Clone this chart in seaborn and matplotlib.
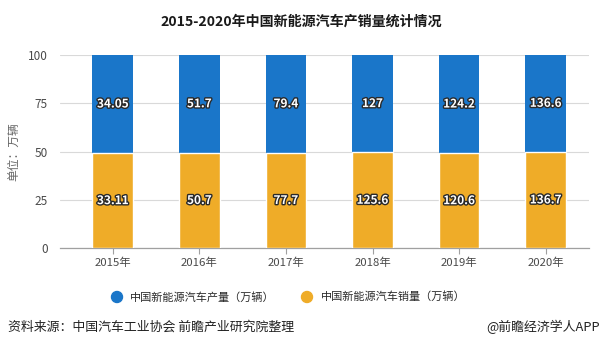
import matplotlib
matplotlib.use("Agg")
import matplotlib.pyplot as plt
import matplotlib.patheffects as pe
import seaborn as sns
import pandas as pd
import numpy as np

years = ["2015年", "2016年", "2017年", "2018年", "2019年", "2020年"]
production = [34.05, 51.7, 79.4, 127, 124.2, 136.6]
sales = [33.11, 50.7, 77.7, 125.6, 120.6, 136.7]
prod_labels = ["34.05", "51.7", "79.4", "127", "124.2", "136.6"]
sales_labels = ["33.11", "50.7", "77.7", "125.6", "120.6", "136.7"]
yticks = [0, 25, 50, 75, 100]

blue = "#1a76c9"
orange = "#efac28"

sns.set_theme(style="white")
plt.rcParams["font.family"] = ["Noto Sans CJK SC", "DejaVu Sans"]

df = pd.DataFrame({"year": years, "production": production, "sales": sales})
df["total"] = df["production"] + df["sales"]
df["sales_pct"] = df["sales"] / df["total"] * 100
df["full"] = 100.0

fig = plt.figure(figsize=(6.03, 3.49), dpi=100)
ax = fig.add_axes([60 / 603, 1 - 248.3 / 349, (589 - 60) / 603, (248.3 - 55) / 349])

sns.barplot(data=df, x="year", y="full", color=blue, width=0.47, ax=ax,
            saturation=1, linewidth=0, zorder=2)
sns.barplot(data=df, x="year", y="sales_pct", color=orange, width=0.47, ax=ax,
            saturation=1, edgecolor="white", linewidth=1.0, zorder=3)

ax.set_ylim(0, 100)
ax.set_xlim(-0.61, 5.5)
ax.set_yticks(yticks)
ax.set_yticklabels([str(v) for v in yticks])
ax.grid(axis="y", color="#d9d9d9", linewidth=0.8, zorder=0)
ax.set_axisbelow(True)
for s in ["top", "right", "left"]:
    ax.spines[s].set_visible(False)
ax.spines["bottom"].set_color("#a0a0a0")
ax.spines["bottom"].set_linewidth(0.9)
ax.tick_params(axis="x", bottom=True, length=4, color="#a0a0a0", width=0.8,
               labelsize=8.2, labelcolor="#4a4a4a", pad=3)
ax.tick_params(axis="y", left=False, labelsize=8.5, labelcolor="#4a4a4a", pad=3)
ax.set_xlabel("")
ax.set_ylabel("单位：万辆", fontsize=8.5, color="#666666")
ax.yaxis.set_label_coords((20 - 60) / 529, 0.5)

stroke = [pe.withStroke(linewidth=2.0, foreground="#2a2a2a")]
for i in range(len(years)):
    sp = df["sales_pct"].iloc[i]
    ax.text(i, sp / 2, sales_labels[i], ha="center", va="center", fontsize=8.5,
            fontweight="bold", color="white", path_effects=stroke, zorder=5)
    ax.text(i, (sp + 100) / 2, prod_labels[i], ha="center", va="center", fontsize=8.5,
            fontweight="bold", color="white", path_effects=stroke, zorder=5)

fig.text(0.5, 1 - 22 / 349, "2015-2020年中国新能源汽车产销量统计情况", ha="center", va="center",
         fontsize=10.1, fontweight="bold", color="#1a1a1a")

# legend
ly = 1 - 297 / 349
fig.patches.append(matplotlib.patches.Ellipse((117 / 603, ly), 11 / 603, 11 / 349,
                                              transform=fig.transFigure, color=blue))
fig.text(130 / 603, ly, "中国新能源汽车产量（万辆）", ha="left", va="center",
         fontsize=8.0, color="#2a2a2a", fontweight="medium")
fig.patches.append(matplotlib.patches.Ellipse((307 / 603, ly), 11 / 603, 11 / 349,
                                              transform=fig.transFigure, color=orange))
fig.text(321 / 603, ly, "中国新能源汽车销量（万辆）", ha="left", va="center",
         fontsize=8.0, color="#2a2a2a", fontweight="medium")

fig.text(8 / 603, 1 - 327 / 349, "资料来源：中国汽车工业协会 前瞻产业研究院整理", ha="left",
         va="center", fontsize=9.3, color="#222222")
fig.text(600 / 603, 1 - 327 / 349, "@前瞻经济学人APP", ha="right", va="center",
         fontsize=9.3, color="#222222")

fig.savefig("out.png", dpi=100)
